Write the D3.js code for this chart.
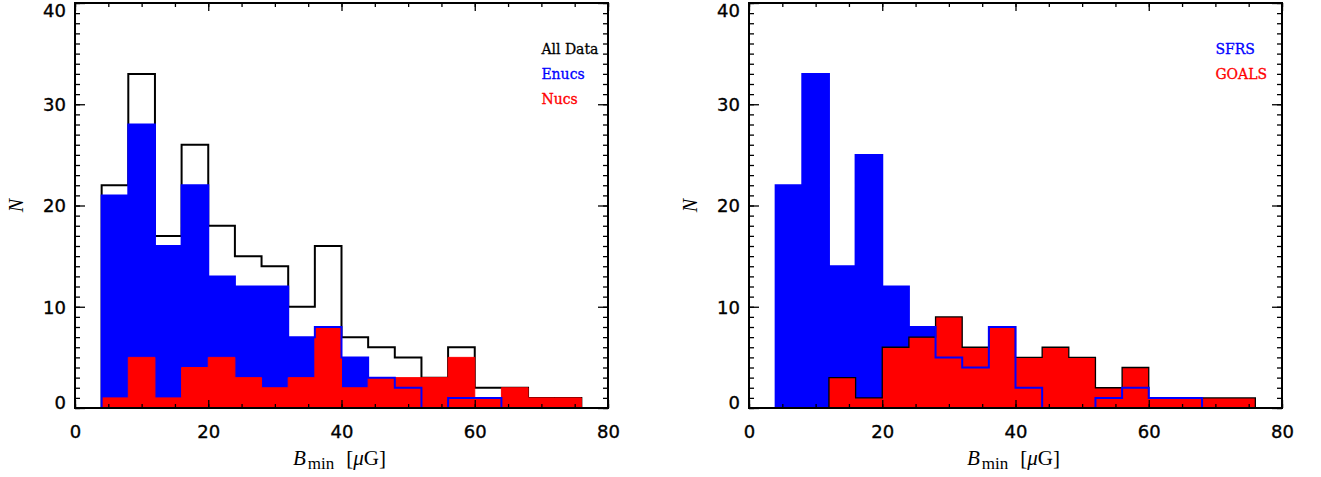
<!DOCTYPE html>
<html>
<head>
<meta charset="utf-8">
<script src="https://cdn.jsdelivr.net/npm/d3@7"></script>
<style>
  body { margin: 0; background: #fff; }
  svg { display: block; }
</style>
</head>
<body>
<svg id="chart" width="1321" height="477"></svg>
<script>
// ---- Data (histogram bin centres, bin width 4 µG) ----
const centers = [2, 6, 10, 14, 18, 22, 26, 30, 34, 38, 42, 46, 50, 54, 58, 62, 66, 70, 74, 78];

// Left panel
const allData = [0, 22, 33, 17, 26, 18, 15, 14, 10, 16, 7, 6, 5, 3, 6, 2, 2, 1, 1, 0];
const enucs   = [0, 21, 28, 16, 22, 13, 12, 12, 7, 8, 5, 3, 2, 0, 1, 1, 0];
const nucs    = [0, 1, 5, 1, 4, 5, 3, 2, 3, 8, 2, 3, 3, 3, 5, 1, 2, 1, 1, 0];

// Right panel
const sfrs  = [0, 22, 33, 14, 25, 12, 8, 5, 4, 8, 2, 0, 0, 1, 2, 1, 1, 0];
const goals = [0, 0, 0, 3, 1, 6, 7, 9, 6, 8, 5, 6, 5, 2, 4, 1, 1, 1, 1, 0];

// Axes
const xDomain = [0, 80];
const yDomain = [0, 40];
const xMajor = [0, 20, 40, 60, 80];
const xMinor = [0, 5, 10, 15, 20, 25, 30, 35, 40, 45, 50, 55, 60, 65, 70, 75, 80];
const yMajor = [0, 10, 20, 30, 40];
const yMinor = d3.range(0, 41, 1);

const leftLegend  = [{label: "All Data", color: "#000000"}, {label: "Enucs", color: "#0000ff"}, {label: "Nucs", color: "#ff0000"}];
const rightLegend = [{label: "SFRS", color: "#0000ff"}, {label: "GOALS", color: "#ff0000"}];

// ---- Drawing ----
const svg = d3.select("#chart");
const BLUE = "#0000ff", RED = "#ff0000";

function toPts(vals) { return vals.map((v, i) => [centers[i], v]); }

function makePanel(px0, px1, layers, legend) {
  const x = d3.scaleLinear().domain(xDomain).range([px0, px1]);
  const y = d3.scaleLinear().domain(yDomain).range([408, 3]);
  const g = svg.append("g");

  const area = d3.area().curve(d3.curveStep).x(d => x(d[0])).y0(y(0)).y1(d => y(d[1]));
  const line = d3.line().curve(d3.curveStep).x(d => x(d[0])).y(d => y(d[1]));

  layers.forEach(L => {
    const pts = toPts(L.values);
    if (L.type === "fill") {
      g.append("path").attr("d", area(pts)).attr("fill", L.color).attr("stroke", "none");
    } else {
      g.append("path").attr("d", line(pts)).attr("fill", "none")
        .attr("stroke", L.color).attr("stroke-width", L.width || 2)
        .attr("stroke-linejoin", "miter");
    }
  });

  // ticks
  const tickStyle = sel => {
    sel.select(".domain").remove();
    sel.selectAll(".tick line").attr("stroke", "#000").attr("stroke-width", 1.3);
  };
  const ax = (gen, tx, ty) => g.append("g").attr("transform", `translate(${tx},${ty})`).call(gen).call(tickStyle);

  ax(d3.axisBottom(x).tickValues(xMinor).tickSize(-4).tickFormat(""), 0, y(0));
  ax(d3.axisTop(x).tickValues(xMinor).tickSize(-4).tickFormat(""), 0, y(40));
  ax(d3.axisTop(x).tickValues(xMajor).tickSize(-8).tickFormat(""), 0, y(40));
  ax(d3.axisLeft(y).tickValues(yMinor).tickSize(-5).tickFormat(""), px0, 0);
  ax(d3.axisRight(y).tickValues(yMinor).tickSize(-5).tickFormat(""), px1, 0);
  ax(d3.axisRight(y).tickValues(yMajor).tickSize(-10).tickFormat(""), px1, 0);

  const labelStyle = s => s.attr("font-family", "DejaVu Sans").attr("font-size", 18)
    .attr("fill", "#000").attr("stroke", "#000").attr("stroke-width", 0.35);

  const bx = ax(d3.axisBottom(x).tickValues(xMajor).tickSize(-8).tickPadding(17).tickFormat(d3.format("d")), 0, y(0));
  bx.selectAll("text").call(labelStyle);
  const ly = ax(d3.axisLeft(y).tickValues(yMajor).tickSize(-10).tickPadding(9).tickFormat(d3.format("d")), px0, 0);
  ly.selectAll("text").call(labelStyle)
    .attr("dy", d => d === 40 ? "0.75em" : (d === 0 ? "0em" : "0.36em"));

  // frame
  g.append("rect").attr("x", px0).attr("y", y(40)).attr("width", px1 - px0).attr("height", y(0) - y(40))
    .attr("fill", "none").attr("stroke", "#000").attr("stroke-width", 2);

  // legend (data coordinates)
  legend.forEach((d, i) => {
    g.append("text").attr("x", x(70)).attr("y", y(35 - 2.5 * i))
      .attr("font-family", "DejaVu Serif").attr("font-size", 14)
      .attr("fill", d.color).attr("stroke", d.color).attr("stroke-width", 0.3).text(d.label);
  });

  // x title
  const cx = (px0 + px1) / 2 - 2;
  const t = g.append("text").attr("x", cx).attr("y", 465).attr("text-anchor", "middle")
    .attr("font-family", "Liberation Serif").attr("font-size", 21).attr("fill", "#000");
  t.append("tspan").attr("font-style", "italic").text("B");
  t.append("tspan").attr("font-size", 17).attr("dy", 4).attr("dx", 2).text("min");
  t.append("tspan").attr("dy", -4).attr("dx", 12).text("[");
  t.append("tspan").attr("font-style", "italic").text("μ");
  t.append("tspan").text("G]");

  // y title
  g.append("text").attr("transform", `translate(${px0 - 52},${y(20)}) rotate(-90)`)
    .attr("text-anchor", "middle").attr("font-family", "Liberation Serif")
    .attr("font-style", "italic").attr("font-size", 20).attr("fill", "#000").text("N");
}

makePanel(75, 608, [
  {type: "line", values: allData, color: "#000", width: 2},
  {type: "fill", values: enucs, color: BLUE},
  {type: "fill", values: nucs, color: RED},
  {type: "line", values: nucs, color: RED, width: 1},
  {type: "line", values: enucs, color: BLUE, width: 2}
], leftLegend);

makePanel(749, 1282, [
  {type: "fill", values: sfrs, color: BLUE},
  {type: "fill", values: goals, color: RED},
  {type: "line", values: goals, color: "#000", width: 1.3},
  {type: "line", values: sfrs, color: BLUE, width: 2}
], rightLegend);
</script>
</body>
</html>
